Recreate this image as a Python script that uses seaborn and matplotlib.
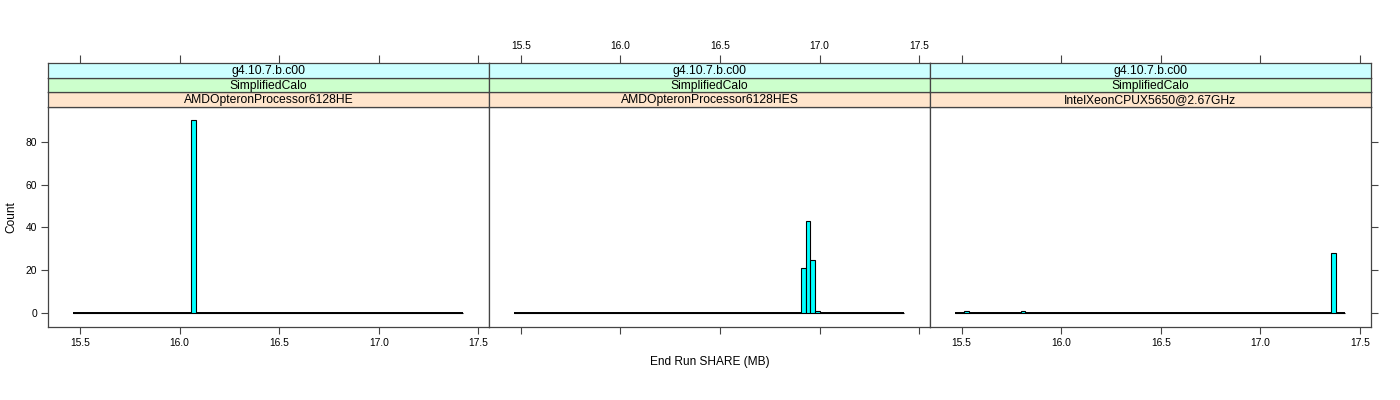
import numpy as np
import pandas as pd
import matplotlib
matplotlib.use("Agg")
import matplotlib.pyplot as plt
import seaborn as sns

# ---- data ----
panel_version = ["g4.10.7.b.c00", "g4.10.7.b.c00", "g4.10.7.b.c00"]
panel_test = ["SimplifiedCalo", "SimplifiedCalo", "SimplifiedCalo"]
panel_cpu = ["AMDOpteronProcessor6128HE", "AMDOpteronProcessor6128HES",
             "IntelXeonCPUX5650@2.67GHz"]

share_p1 = [16.07]
count_p1 = [90]
share_p2 = [16.917, 16.94, 16.964, 16.988]
count_p2 = [21, 43, 25, 1]
share_p3 = [15.525, 15.805, 17.355]
count_p3 = [1, 1, 28]

bin_lo, bin_hi, n_bins = 15.467, 17.425, 83
x_ticks = [15.5, 16.0, 16.5, 17.0, 17.5]
y_ticks = [0, 20, 40, 60, 80]
x_label = "End Run SHARE (MB)"
y_label = "Count"

# ---- style ----
sns.set_theme(style="white")
plt.rcParams["font.family"] = ["Liberation Sans", "DejaVu Sans"]
plt.rcParams["text.color"] = "black"
plt.rcParams["axes.labelcolor"] = "black"
plt.rcParams["xtick.color"] = "black"
plt.rcParams["ytick.color"] = "black"

W, H = 1400, 400
fig = plt.figure(figsize=(14, 4), dpi=100)

left_px, right_px = 48.3, 1370.7
pan_top_px, pan_bot_px = 106.7, 326.7
strip_top_px = 63.3
pw = (right_px - left_px) / 3
sh = (pan_top_px - strip_top_px) / 3

xlim = (15.341, 17.554)
ylim = (-6.3, 96.3)
frame_col = "#444444"
strip_cols = ["#FFE5CC", "#CCFFCC", "#CCFFFF"]  # bottom -> top

data = [(share_p1, count_p1), (share_p2, count_p2), (share_p3, count_p3)]

def fx(px):
    return px / W

def fy(py):
    return 1 - py / H

for i in range(3):
    x0 = left_px + i * pw
    ax = fig.add_axes([fx(x0), fy(pan_bot_px), pw / W, (pan_bot_px - pan_top_px) / H])
    vals, cnts = data[i]
    df = pd.DataFrame({"share": vals, "count": cnts})
    # zero-count bins appear as a continuous baseline
    ax.hlines(0, bin_lo, bin_hi, color="black", linewidth=1.4, zorder=1)
    sns.histplot(data=df, x="share", weights="count", bins=n_bins,
                 binrange=(bin_lo, bin_hi), ax=ax,
                 color="#00FFFF", edgecolor="black", linewidth=0.8, alpha=1.0,
                 zorder=2)
    ax.set_xlim(xlim)
    ax.set_ylim(ylim)
    ax.set_xlabel("")
    ax.set_ylabel("")
    for s in ax.spines.values():
        s.set_color(frame_col)
        s.set_linewidth(0.9)
    ax.set_xticks(x_ticks)
    ax.set_yticks(y_ticks)
    ax.tick_params(axis="both", which="both", direction="out", length=5,
                   width=0.8, color=frame_col, labelsize=7.4, pad=3,
                   labelcolor="black")
    ax.tick_params(axis="x", bottom=True, top=False,
                   labelbottom=(i != 1))
    ax.set_xticklabels([f"{t:.1f}" for t in x_ticks])
    ax.tick_params(axis="y", left=(i == 0), labelleft=(i == 0),
                   right=(i == 2), labelright=False)

    # strips
    labels = [panel_cpu[i], panel_test[i], panel_version[i]]
    for k in range(3):
        y_bot = pan_top_px - k * sh
        sax = fig.add_axes([fx(x0), fy(y_bot), pw / W, sh / H])
        sax.set_facecolor(strip_cols[k])
        sax.set_xlim(xlim)
        sax.set_ylim(0, 1)
        sax.set_yticks([])
        sax.text(0.5, 0.45, labels[k], transform=sax.transAxes, ha="center",
                 va="center", fontsize=8.7, color="black")
        for s in sax.spines.values():
            s.set_color(frame_col)
            s.set_linewidth(0.9)
        if k == 2:
            sax.set_xticks(x_ticks)
            sax.set_xticklabels([f"{t:.1f}" for t in x_ticks])
            sax.tick_params(axis="x", bottom=False, labelbottom=False,
                            top=True, labeltop=(i == 1), direction="out",
                            length=6, width=0.8, color=frame_col,
                            labelsize=7.4, pad=3, labelcolor="black")
        else:
            sax.set_xticks([])

fig.text(709.5 / W, fy(362), x_label, ha="center", va="center", fontsize=8.6,
         color="black")
fig.text(11.7 / W, fy(216.7), y_label, ha="center", va="center",
         rotation=90, fontsize=8.6, color="black")

fig.savefig("out.png", dpi=100)
